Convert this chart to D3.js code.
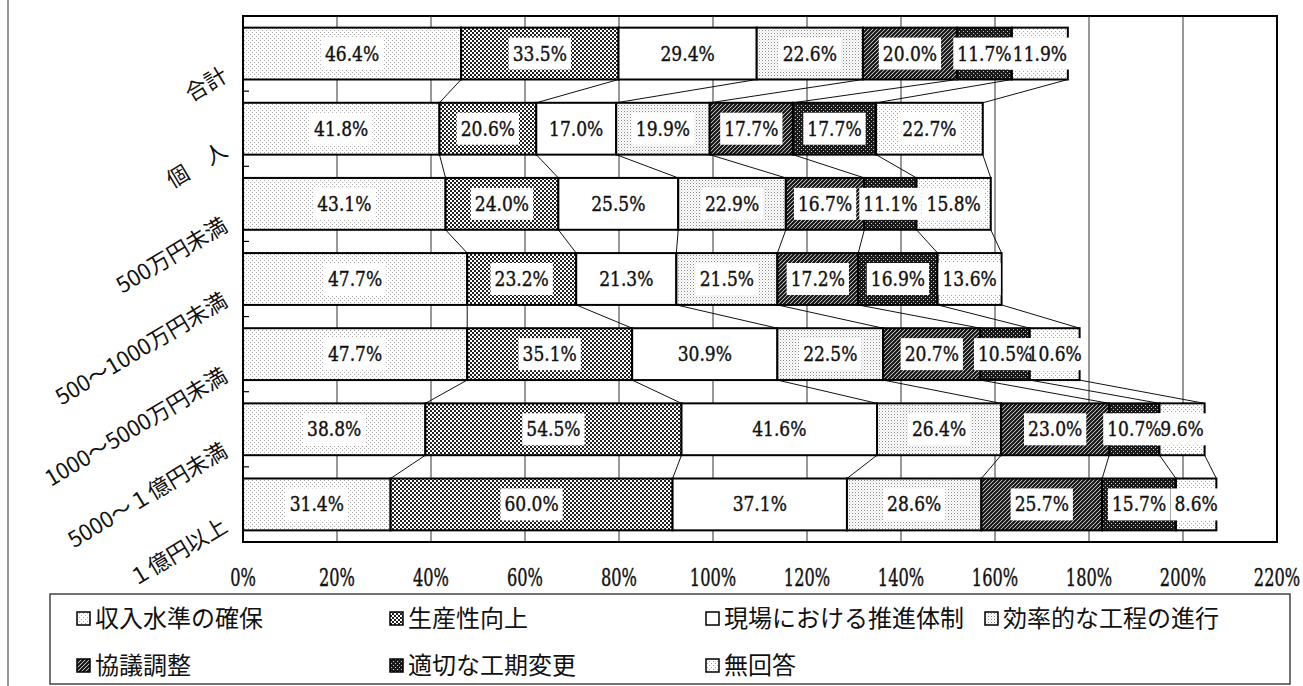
<!DOCTYPE html>
<html><head><meta charset="utf-8">
<script src="https://cdn.jsdelivr.net/npm/d3@7"></script>
<style>body{margin:0;background:#fff}svg{display:block}</style>
</head><body>
<svg id="c" width="1303" height="686"></svg>
<script>
const categories = ["合計","個　人","500万円未満","500～1000万円未満","1000～5000万円未満","5000～１億円未満","１億円以上"];
const seriesNames = ["収入水準の確保","生産性向上","現場における推進体制","効率的な工程の進行","協議調整","適切な工期変更","無回答"];
const s1 = [46.4,41.8,43.1,47.7,47.7,38.8,31.4];
const s2 = [33.5,20.6,24.0,23.2,35.1,54.5,60.0];
const s3 = [29.4,17.0,25.5,21.3,30.9,41.6,37.1];
const s4 = [22.6,19.9,22.9,21.5,22.5,26.4,28.6];
const s5 = [20.0,17.7,16.7,17.2,20.7,23.0,25.7];
const s6 = [11.7,17.7,11.1,16.9,10.5,10.7,15.7];
const s7 = [11.9,22.7,15.8,13.6,10.6,9.6,8.6];
const xTicks = [0,20,40,60,80,100,120,140,160,180,200,220];

const seriesVals = [s1,s2,s3,s4,s5,s6,s7];
const patIds = ["p1","p2","p3","p4","p5","p6","p7"];

const svg = d3.select("#c");
const defs = svg.append("defs");
function pat(id, size, draw){
  const p = defs.append("pattern").attr("id",id).attr("patternUnits","userSpaceOnUse").attr("width",size).attr("height",size);
  draw(p);
}
pat("p1",4,p=>{p.append("rect").attr("width",4).attr("height",4).attr("fill","#fff");
  p.append("rect").attr("x",0).attr("y",0).attr("width",1).attr("height",1).attr("fill","#a8a8a8");
  p.append("rect").attr("x",2).attr("y",2).attr("width",1).attr("height",1).attr("fill","#a8a8a8");});
pat("p2",4,p=>{p.append("rect").attr("width",4).attr("height",4).attr("fill","#fff");
  p.append("rect").attr("x",0).attr("y",0).attr("width",2).attr("height",2).attr("fill","#222");
  p.append("rect").attr("x",2).attr("y",2).attr("width",2).attr("height",2).attr("fill","#222");});
pat("p3",4,p=>{p.append("rect").attr("width",4).attr("height",4).attr("fill","#fff");});
pat("p4",3,p=>{p.append("rect").attr("width",3).attr("height",3).attr("fill","#fff");
  p.append("rect").attr("x",0).attr("y",0).attr("width",1).attr("height",1).attr("fill","#8a8a8a");
  p.append("rect").attr("x",1.5).attr("y",1.5).attr("width",1).attr("height",1).attr("fill","#bbb");});
pat("p5",4,p=>{p.append("rect").attr("width",4).attr("height",4).attr("fill","#fff");
  p.append("path").attr("d","M-1,1 L1,-1 M0,4 L4,0 M3,5 L5,3").attr("stroke","#111").attr("stroke-width",2.2);});
pat("p6",4,p=>{p.append("rect").attr("width",4).attr("height",4).attr("fill","#1a1a1a");
  p.append("rect").attr("x",1).attr("y",1).attr("width",1).attr("height",1).attr("fill","#ccc");
  p.append("rect").attr("x",3).attr("y",3).attr("width",1).attr("height",1).attr("fill","#ccc");});
pat("p7",4,p=>{p.append("rect").attr("width",4).attr("height",4).attr("fill","#fff");
  p.append("rect").attr("x",1).attr("y",1).attr("width",1).attr("height",1).attr("fill","#a5a5a5");
  p.append("rect").attr("x",3).attr("y",3).attr("width",1).attr("height",1).attr("fill","#a5a5a5");});

const x = d3.scaleLinear().domain([0,220]).range([243,1277]);
const y = d3.scaleBand().domain(categories).range([16,542]).paddingInner(0.31).paddingOuter(0.155);

// left frame line
svg.append("line").attr("x1",8).attr("x2",8).attr("y1",0).attr("y2",686).attr("stroke","#777").attr("stroke-width",1.5);

// gridlines
svg.append("g").selectAll("line").data(xTicks.slice(1,-1)).join("line")
  .attr("x1",d=>x(d)).attr("x2",d=>x(d)).attr("y1",16).attr("y2",542)
  .attr("stroke","#333").attr("stroke-width",1);

// y ticks at band boundaries
const bounds = categories.slice(1).map(c=>y(c)-y.step()*y.paddingInner()/2);
svg.append("g").selectAll("line").data(bounds).join("line")
  .attr("x1",243).attr("x2",249).attr("y1",d=>d).attr("y2",d=>d).attr("stroke","#000").attr("stroke-width",1.2);

// stacked data
const rows = categories.map((c,i)=>{
  let acc=0;
  return seriesVals.map((s,k)=>{const v=s[i]; const o={cat:c,k,v,x0:acc,x1:acc+v}; acc+=v; return o;});
});

// connector lines
const conn = [];
for(let i=0;i<rows.length-1;i++){
  for(let k=0;k<7;k++){
    conn.push({xa:rows[i][k].x1, ya:y(categories[i])+y.bandwidth(), xb:rows[i+1][k].x1, yb:y(categories[i+1])});
  }
}
svg.append("g").selectAll("line").data(conn).join("line")
  .attr("x1",d=>x(d.xa)).attr("y1",d=>d.ya).attr("x2",d=>x(d.xb)).attr("y2",d=>d.yb)
  .attr("stroke","#111").attr("stroke-width",1);

// bars
const segs = rows.flat();
svg.append("g").selectAll("rect").data(segs).join("rect")
  .attr("x",d=>x(d.x0)).attr("y",d=>y(d.cat)).attr("width",d=>x(d.x1)-x(d.x0)).attr("height",y.bandwidth())
  .attr("fill",d=>`url(#${patIds[d.k]})`).attr("stroke","#000").attr("stroke-width",2);

// labels
const lblFont = '"DejaVu Serif Condensed","DejaVu Serif",serif';
const lg = svg.append("g");
segs.forEach(d=>{
  const cx = (x(d.x0)+x(d.x1))/2, cy = y(d.cat)+y.bandwidth()/2;
  const t = lg.append("text").attr("transform",`translate(${cx},${cy+7}) scale(1,1.12)`).attr("text-anchor","middle")
    .attr("font-family",lblFont).attr("font-stretch","condensed").attr("font-size",19).attr("fill","#111")
    .attr("stroke","#111").attr("stroke-width",0.35)
    .text(d.v.toFixed(1)+"%");
  const w = t.node().getComputedTextLength();
  lg.insert("rect","text").attr("x",cx-w/2-4).attr("y",cy-16).attr("width",w+8).attr("height",32).attr("fill","#fff");
});
lg.selectAll("text").raise();

// plot border
svg.append("rect").attr("x",243).attr("y",16).attr("width",1277-243).attr("height",526)
  .attr("fill","none").attr("stroke","#000").attr("stroke-width",2);

// x tick labels
svg.append("g").selectAll("text").data(xTicks).join("text")
  .attr("transform",d=>`translate(${x(d)},586) scale(1,1.35)`).attr("text-anchor","middle")
  .attr("font-family",lblFont).attr("font-stretch","condensed").attr("font-size",18).attr("fill","#111")
  .attr("stroke","#111").attr("stroke-width",0.3)
  .text(d=>d+"%");

// y labels
svg.append("g").selectAll("text").data(categories).join("text")
  .attr("transform",d=>`translate(229,${y(d)+y.bandwidth()/2+26}) rotate(-31)`)
  .attr("text-anchor","end").attr("font-family",'"Noto Sans CJK JP",sans-serif').attr("font-size",22).attr("fill","#111")
  .text(d=>d);

// legend
svg.append("rect").attr("x",50).attr("y",594).attr("width",1240).attr("height",90)
  .attr("fill","none").attr("stroke","#444").attr("stroke-width",1.5);
const legPos = [[77,619],[390,619],[706,619],[985,619],[77,666],[390,666],[706,666]];
const leg = svg.append("g").selectAll("g").data(seriesNames).join("g")
  .attr("transform",(d,i)=>`translate(${legPos[i][0]},${legPos[i][1]})`);
leg.append("rect").attr("x",0).attr("y",-7).attr("width",13).attr("height",13)
  .attr("fill",(d,i)=>`url(#${patIds[i]})`).attr("stroke","#000").attr("stroke-width",1.5);
leg.append("text").attr("x",18).attr("y",8).attr("font-family",'"Noto Sans CJK JP",sans-serif')
  .attr("font-size",24).attr("fill","#111").text(d=>d);
</script>
</body></html>
